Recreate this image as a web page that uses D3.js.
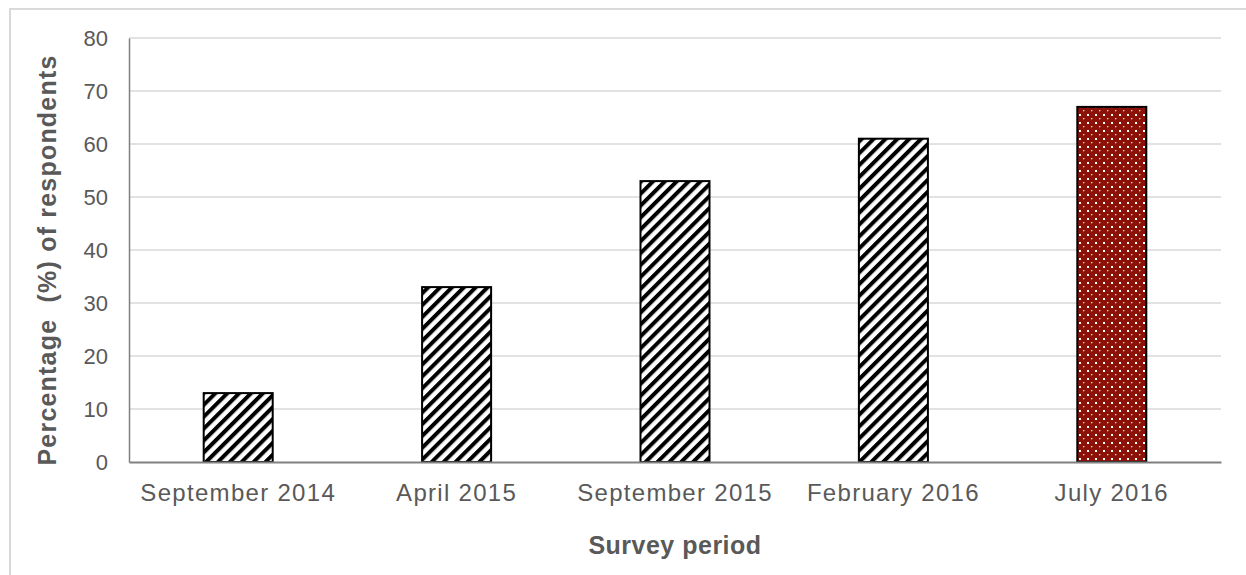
<!DOCTYPE html>
<html>
<head>
<meta charset="utf-8">
<script src="https://cdn.jsdelivr.net/npm/d3@7"></script>
<style>
  html, body { margin: 0; padding: 0; background: #fff; }
  svg { display: block; }
  text { font-family: "Liberation Sans", Arial, sans-serif; fill: #595959; }
</style>
</head>
<body>
<script>
// Survey results: share of respondents per survey period
const periods = ["September 2014", "April 2015", "September 2015", "February 2016", "July 2016"];
const percentages = [13, 33, 53, 61, 67];
const yTicks = [0, 10, 20, 30, 40, 50, 60, 70, 80];
const xTitle = "Survey period";
const yTitle = "Percentage  (%) of respondents";

const W = 1246, H = 575;
const margin = { left: 129, right: 25, top: 38, bottom: 113 };

const svg = d3.select("body").append("svg")
  .attr("width", W).attr("height", H);

// chart frame
svg.append("rect")
  .attr("x", 10).attr("y", 9)
  .attr("width", W + 20).attr("height", H + 20)
  .attr("fill", "none").attr("stroke", "#d9d9d9").attr("stroke-width", 2);

const defs = svg.append("defs");

// diagonal hatch for the earlier periods
const hatch = defs.append("pattern")
  .attr("id", "hatch").attr("patternUnits", "userSpaceOnUse")
  .attr("width", 8.4).attr("height", 8.4)
  .attr("patternTransform", "rotate(45)");
hatch.append("rect").attr("width", 8.4).attr("height", 8.4).attr("fill", "#fff");
hatch.append("rect").attr("width", 4).attr("height", 8.4).attr("fill", "#000");

// dotted dark red fill for the latest period
const dots = defs.append("pattern")
  .attr("id", "dots").attr("patternUnits", "userSpaceOnUse")
  .attr("width", 8).attr("height", 8).attr("x", 1077).attr("y", 0);
dots.append("rect").attr("width", 8).attr("height", 8).attr("fill", "#8b1208");
dots.append("rect").attr("x", 2).attr("y", 2).attr("width", 2).attr("height", 2).attr("fill", "#fff");
dots.append("rect").attr("x", 6).attr("y", 6).attr("width", 1.3).attr("height", 1.3).attr("fill", "#f3d6d2");

const x = d3.scaleBand()
  .domain(periods)
  .range([margin.left, W - margin.right])
  .paddingInner(0.684).paddingOuter(0.342);

const y = d3.scaleLinear()
  .domain([0, 80])
  .range([H - margin.bottom, margin.top]);

// gridlines
svg.append("g")
  .selectAll("line")
  .data(yTicks.filter(d => d > 0))
  .join("line")
  .attr("x1", margin.left).attr("x2", W - margin.right)
  .attr("y1", d => y(d)).attr("y2", d => y(d))
  .attr("stroke", "#d9d9d9").attr("stroke-width", 1.5);

// y axis
const yAxis = svg.append("g")
  .attr("transform", `translate(${margin.left},0)`)
  .call(d3.axisLeft(y).tickValues(yTicks).tickSize(0).tickPadding(21));
yAxis.select(".domain").attr("stroke", "#808080").attr("stroke-width", 1.5);
yAxis.selectAll("text")
  .attr("font-size", 22).attr("fill", "#595959")
  .attr("font-family", "Liberation Sans, Arial, sans-serif");

// bars
svg.append("g")
  .selectAll("rect")
  .data(periods.map((p, i) => ({ p, v: percentages[i], last: i === periods.length - 1 })))
  .join("rect")
  .attr("x", d => x(d.p))
  .attr("width", x.bandwidth())
  .attr("y", d => y(d.v))
  .attr("height", d => y(0) - y(d.v))
  .attr("fill", d => d.last ? "url(#dots)" : "url(#hatch)")
  .attr("stroke", "#000").attr("stroke-width", 2);

// x axis
const xAxis = svg.append("g")
  .attr("transform", `translate(0,${y(0)})`)
  .call(d3.axisBottom(x).tickSize(0).tickPadding(22));
xAxis.select(".domain").attr("stroke", "#808080").attr("stroke-width", 2);
xAxis.selectAll("text")
  .attr("font-size", 24).attr("fill", "#595959")
  .attr("letter-spacing", "1.3px")
  .attr("font-family", "Liberation Sans, Arial, sans-serif");

// axis titles
svg.append("text")
  .attr("x", (margin.left + W - margin.right) / 2).attr("y", 554)
  .attr("text-anchor", "middle")
  .attr("font-size", 25).attr("font-weight", "bold")
  .attr("letter-spacing", "0.5px")
  .text(xTitle);

svg.append("text")
  .attr("transform", "translate(56,260) rotate(-90)")
  .attr("text-anchor", "middle")
  .attr("font-size", 25).attr("font-weight", "bold")
  .attr("letter-spacing", "1.2px")
  .style("white-space", "pre")
  .text(yTitle);
</script>
</body>
</html>
